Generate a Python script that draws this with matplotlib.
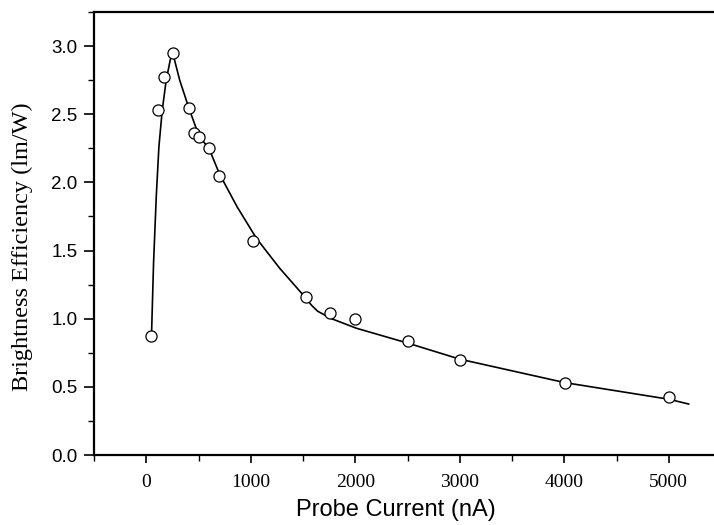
import matplotlib
matplotlib.use("Agg")
import matplotlib.pyplot as plt
from matplotlib.ticker import MultipleLocator

# measured points
current = [50, 115, 170, 255, 410, 460, 505, 600, 700, 1020, 1525, 1760, 2000, 2505, 3005, 4005, 5000]
efficiency = [0.87, 2.53, 2.77, 2.95, 2.545, 2.36, 2.335, 2.255, 2.05, 1.573, 1.162, 1.04, 1.0, 0.835, 0.697, 0.526, 0.424]

# fitted curve
fit_x = [50, 70, 96, 121, 153, 191, 230, 255, 320, 408, 500, 606, 702, 870, 1054, 1277, 1500,
         1580, 1640, 1700, 1756, 2011, 2506, 3001, 4006, 5002, 5190]
fit_y = [0.87, 1.41, 1.90, 2.26, 2.53, 2.75, 2.90, 2.945, 2.75, 2.545, 2.35, 2.238, 2.06, 1.82,
         1.59, 1.37, 1.175, 1.10, 1.055, 1.03, 1.005, 0.93, 0.82, 0.703, 0.531, 0.409, 0.374]

fig = plt.figure(figsize=(7.14, 5.25), dpi=100)
ax = fig.add_axes([94/714, 1-455/525, (721-94)/714, (455-12)/525])

ax.plot(fit_x, fit_y, color='black', lw=1.2)
ax.plot(current, efficiency, 'o', mfc='white', mec='black', ms=8, mew=0.9)

ax.set_xlim(-500, 5500)
ax.set_ylim(0, 3.25)
ax.xaxis.set_major_locator(MultipleLocator(1000))
ax.xaxis.set_minor_locator(MultipleLocator(500))
ax.yaxis.set_major_locator(MultipleLocator(0.5))
ax.yaxis.set_minor_locator(MultipleLocator(0.25))
ax.yaxis.set_major_formatter(plt.FormatStrFormatter('%.1f'))

for s in ['left', 'bottom', 'top']:
    ax.spines[s].set_linewidth(1.6)
ax.spines['right'].set_visible(False)

ax.tick_params(which='major', direction='out', width=1.2)
ax.tick_params(axis='y', which='major', length=7, pad=5)
ax.tick_params(axis='y', which='minor', length=4, width=1.0)
ax.tick_params(axis='x', which='major', length=6, pad=8)
ax.tick_params(axis='x', which='minor', length=4, width=1.0)

for lab in ax.get_xticklabels():
    lab.set_fontfamily('Liberation Serif')
    lab.set_fontsize(14)
for lab in ax.get_yticklabels():
    lab.set_fontfamily('Liberation Sans')
    lab.set_fontsize(13.5)

fig.text(22/714, 1-247/525, 'Brightness Efficiency (lm/W)', rotation=90, ha='center', va='center',
         fontfamily='Liberation Serif', fontsize=17.5)
fig.text(396/714, 1-510/525, 'Probe Current (nA)', ha='center', va='center',
         fontfamily='Liberation Sans', fontsize=17)

fig.savefig('out.png', dpi=100)
